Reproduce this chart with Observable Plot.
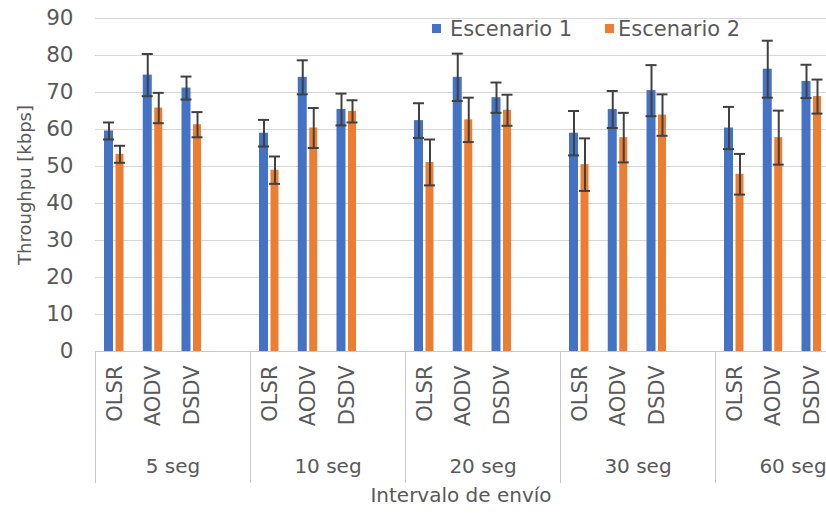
<!DOCTYPE html>
<html><head><meta charset="utf-8">
<script src="https://cdn.jsdelivr.net/npm/d3@7"></script>
<script src="https://cdn.jsdelivr.net/npm/@observablehq/plot@0.6"></script>
<style>
html,body{margin:0;padding:0;background:#fff;overflow:hidden;width:826px;height:516px}
#wrap{position:relative;width:826px;height:516px;overflow:hidden}
#chart{position:absolute;left:0;top:0;width:870px}
#chart svg{max-width:none !important}
#legend{position:absolute;left:0;top:0;font-family:"DejaVu Sans";font-size:21px;color:#595959;line-height:22px;white-space:nowrap}
#legend .sw{position:absolute;width:9px;height:9px}
#legend .lt{position:absolute}
</style></head><body>
<div id="wrap"><div id="chart"></div><div id="legend"></div></div>
<script>
const groups = ["5 seg", "10 seg", "20 seg", "30 seg", "60 seg"];
const protocols = ["OLSR", "AODV", "DSDV"];
const seriesNames = ["Escenario 1", "Escenario 2"];
const seriesColors = ["#4472C4", "#ED7D31"];
// values in group order, protocol order OLSR, AODV, DSDV
const esc1 = [59.6, 74.7, 71.2, 59.0, 74.1, 65.4, 62.4, 74.1, 68.6, 59.0, 65.4, 70.5, 60.4, 76.3, 73.0];
const esc1Err = [2.3, 5.7, 3.1, 3.6, 4.6, 4.3, 4.7, 6.4, 4.1, 6.0, 5.0, 6.9, 5.7, 7.7, 4.5];
const esc2 = [53.3, 65.8, 61.3, 49.0, 60.4, 64.9, 51.1, 62.6, 65.2, 50.5, 57.8, 63.9, 47.9, 57.8, 68.9];
const esc2Err = [2.3, 4.1, 3.4, 3.7, 5.4, 3.0, 6.2, 6.0, 4.2, 7.1, 6.7, 5.6, 5.5, 7.3, 4.6];
const yTicks = [0, 10, 20, 30, 40, 50, 60, 70, 80, 90];
const yTitle = "Throughpu [kbps]";
const xTitle = "Intervalo de envío";

const W = 870, H = 516, ML = 95, MR = 0, MT = 18, MB = 165;
const slots = groups.flatMap(g => [...protocols, ""].map(p => g + "|" + p));
const bw = (W - ML - MR) / slots.length;

const s1 = [], s2 = [];
groups.forEach((g, gi) => protocols.forEach((p, pi) => {
  const i = gi * 3 + pi;
  s1.push({slot: g + "|" + p, value: esc1[i], lo: esc1[i] - esc1Err[i], hi: esc1[i] + esc1Err[i]});
  s2.push({slot: g + "|" + p, value: esc2[i], lo: esc2[i] - esc2Err[i], hi: esc2[i] + esc2Err[i]});
}));
const labelRows = groups.flatMap(g => protocols.map(p => ({slot: g + "|" + p, protocol: p})));
const groupRows = groups.map(g => ({slot: g + "|AODV", group: g}));
const sepRows = groups.map(g => ({slot: g + "|OLSR"}));

const errColor = "#404040";
const font = "DejaVu Sans";
const txt = "#595959";

const b1 = {insetLeft: 9, insetRight: bw - 18};
const b2 = {insetLeft: 20.5, insetRight: bw - 28.5};
const c1 = 13.5 - bw / 2, c2 = 24.5 - bw / 2;

const chart = Plot.plot({
  width: W, height: H,
  marginLeft: ML, marginRight: MR, marginTop: MT, marginBottom: MB,
  style: {fontFamily: font, fontSize: "21.5px", color: txt, background: "transparent", overflow: "visible", maxWidth: "none"},
  x: {domain: slots, padding: 0, round: false, axis: null},
  y: {domain: [0, 90], ticks: yTicks, tickSize: 0, tickPadding: 22, label: null},
  marks: [
    Plot.ruleY(yTicks.filter(v => v > 0), {stroke: "#d6d6d6", strokeWidth: 1}),
    Plot.barY(s1, {x: "slot", y: "value", fill: seriesColors[0], ...b1}),
    Plot.barY(s2, {x: "slot", y: "value", fill: seriesColors[1], ...b2}),
    Plot.ruleY([0], {stroke: "#c8c8c8", strokeWidth: 1}),
    Plot.ruleX(sepRows, {x: "slot", dx: -bw / 2, stroke: "#c8c8c8", strokeWidth: 1, insetTop: H - MB - MT, insetBottom: -(483 - (H - MB))}),
    Plot.ruleX(s1, {x: "slot", y1: "lo", y2: "hi", dx: c1, stroke: errColor, strokeWidth: 2}),
    Plot.ruleX(s2, {x: "slot", y1: "lo", y2: "hi", dx: c2, stroke: errColor, strokeWidth: 2}),
    Plot.tickY(s1, {x: "slot", y: "lo", stroke: errColor, strokeWidth: 2, insetLeft: 8, insetRight: bw - 19}),
    Plot.tickY(s1, {x: "slot", y: "hi", stroke: errColor, strokeWidth: 2, insetLeft: 8, insetRight: bw - 19}),
    Plot.tickY(s2, {x: "slot", y: "lo", stroke: errColor, strokeWidth: 2, insetLeft: 19, insetRight: bw - 30}),
    Plot.tickY(s2, {x: "slot", y: "hi", stroke: errColor, strokeWidth: 2, insetLeft: 19, insetRight: bw - 30}),
    Plot.text(labelRows, {x: "slot", y: () => 0, text: "protocol", rotate: -90, textAnchor: "end", dy: 14, fontSize: 21, fill: txt, ariaLabel: "protocol-labels"}),
    Plot.text(groupRows, {x: "slot", y: () => 0, text: "group", dx: bw / 2, dy: 115, fontSize: 20, fill: txt}),
    Plot.text([yTitle], {frameAnchor: "left", text: d => d, rotate: -90, textAnchor: "middle", dx: -70, fontSize: 18, fill: txt}),
    Plot.text([xTitle], {frameAnchor: "bottom", text: d => d, textAnchor: "middle", lineAnchor: "middle", dx: -22, dy: 144, fontSize: 20, fill: txt})
  ]
});
chart.style.maxWidth = "none";
// elongate the rotated protocol labels along their reading direction
d3.select(chart).selectAll('g[aria-label="protocol-labels"] text').attr("transform", function() {
  return (this.getAttribute("transform") || "") + " scale(1.17,1)";
});
document.getElementById("chart").appendChild(chart);

const legend = document.getElementById("legend");
const legendPos = [[432, 450], [605, 618]];
seriesNames.forEach((n, i) => {
  const sw = document.createElement("span"); sw.className = "sw"; sw.style.background = seriesColors[i];
  sw.style.left = legendPos[i][0] + "px"; sw.style.top = "24px";
  const t = document.createElement("span"); t.className = "lt"; t.textContent = n;
  t.style.left = legendPos[i][1] + "px"; t.style.top = "18px";
  legend.appendChild(sw); legend.appendChild(t);
});
</script>
</body></html>
